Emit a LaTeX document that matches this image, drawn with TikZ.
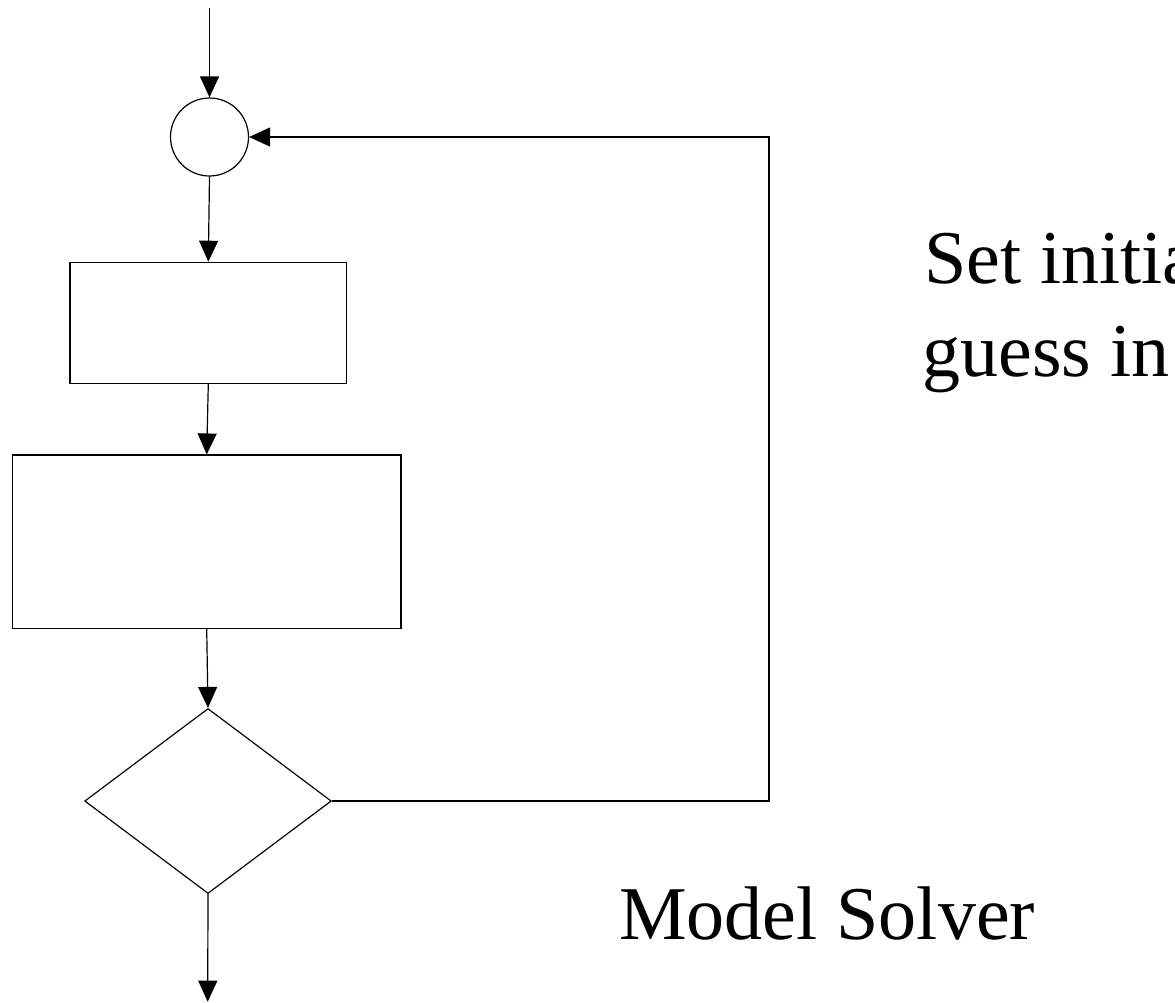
\documentclass[tikz,border=0pt]{standalone}
\usepackage{fontspec}
\setmainfont{Liberation Serif}
\usetikzlibrary{arrows.meta,shapes.geometric}

\tikzset{
  flow/.style={draw=black, line width=0.9pt, fill=white, inner sep=0pt},
  arr/.style={draw=black, line width=0.9pt,
    -{Triangle[length=15.75pt, width=14.25pt]}},
  plain/.style={draw=black, line width=0.9pt},
  bigtext/.style={inner sep=0pt, font=\fontsize{57}{70}\selectfont}
}

\begin{document}
\begin{tikzpicture}[x=0.75pt, y=-0.75pt]
  \useasboundingbox (0,0) rectangle (1175,1003);

  % flowchart shapes
  \node[flow, circle, minimum size=58.5pt] (junction) at (209.5,137) {};
  \node[flow, rectangle, minimum width=207.5pt, minimum height=90.75pt] (boxa) at (208.3,322.8) {};
  \node[flow, rectangle, minimum width=291.5pt, minimum height=130pt] (boxb) at (206.7,541.7) {};
  \node[flow, diamond, minimum width=185pt, minimum height=138.75pt] (test) at (208,801) {};

  % free ends and the corner of the return loop
  \coordinate (entry) at (209.5,8);
  \coordinate (exit) at (207.7,1001.7);
  \coordinate (corner) at (769,801);

  % connectors
  \draw[arr] (entry) -- (junction.north);
  \draw[arr] (junction.south) -- (boxa.north);
  \draw[arr] (boxa.south) -- (boxb.north);
  \draw[arr] (boxb.south) -- (test.north);
  \draw[arr] (test.south) -- (exit);
  \draw[arr] (test.east) -- (corner) |- (junction.east);

  % labels
  \node[bigtext, anchor=base west] (setline) at (924,283.3) {Set initial};
  \node[bigtext, anchor=base west] (guessline) at (922,376.7) {guess in};
  \node[bigtext, anchor=base west] (solver) at (619,939) {Model Solver};
\end{tikzpicture}
\end{document}
